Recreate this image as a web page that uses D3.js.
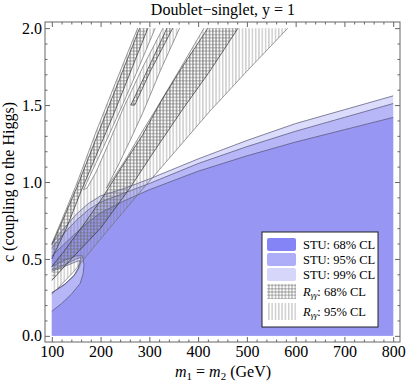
<!DOCTYPE html>
<html lang="en">
<head>
<meta charset="UTF-8">
<title>Doublet-singlet, y = 1</title>
<script src="https://d3js.org/d3.v7.min.js"></script>
<style>
 body { margin: 0; background: #fff; font-family: "Liberation Serif", "Times New Roman", serif; }
</style>
</head>
<body>
<div id="chart"></div>
<script>
const width = 407, height = 385;

// axis ticks
const xTicks = [100, 200, 300, 400, 500, 600, 700, 800];
const yTicks = [0, 0.5, 1.0, 1.5, 2.0];

// STU allowed regions, [m (GeV), c]: upper edge, then the notch near m = 100
const stu99Upper = [[100,0.60],[120,0.68],[150,0.79],[175,0.86],[200,0.91],[250,0.96],[300,1.02],[400,1.15],[500,1.27],[600,1.38],[700,1.47],[800,1.56]];
const stu95Upper = [[100,0.57],[120,0.65],[150,0.75],[175,0.82],[200,0.87],[250,0.93],[300,0.99],[400,1.12],[500,1.23],[600,1.33],[700,1.42],[800,1.51]];
const stu68Upper = [[100,0.52],[120,0.58],[150,0.67],[175,0.74],[200,0.80],[250,0.88],[300,0.95],[400,1.07],[500,1.17],[600,1.26],[700,1.34],[800,1.42]];
const stu99Notch = [[100,0.42],[125,0.45],[148,0.48],[157,0.49],[154,0.44],[145,0.39],[125,0.33],[100,0.28]];
const stu95Notch = [[100,0.43],[125,0.46],[150,0.50],[160,0.51],[157,0.45],[148,0.40],[128,0.34],[100,0.28]];
const stu68Notch = [[100,0.45],[125,0.49],[150,0.52],[163,0.52],[166,0.46],[164,0.40],[158,0.34],[140,0.27],[120,0.21],[100,0.16]];

// R_gamma-gamma 95% CL: outer edges and the white wedges inside
const r95Left  = [[276,2.0],[230,1.64],[190,1.32],[150,0.98],[120,0.75],[100,0.60]];
const r95Right = [[584,2.0],[500,1.72],[424,1.46],[307,1.03],[281,0.935],[200,0.63],[143,0.41],[100,0.27]];
const gapA = [[312,2.0],[275,1.72],[242,1.48],[205,1.22],[178,1.04],[165,0.95],[172,0.96],[190,1.06],[215,1.24],[248,1.49],[287,1.75],[328,2.0]];
const gapB = [[362,2.0],[322,1.72],[288,1.46],[262,1.28],[238,1.12],[212,0.96],[225,1.02],[252,1.15],[280,1.30],[315,1.48],[362,1.73],[412,2.0]];

// R_gamma-gamma 68% CL bands: left edge (top -> bottom), right edge (bottom -> top)
const r68Band1Left  = [[280,2.0],[214,1.47],[152,0.97],[118,0.72],[100,0.59]];
const r68Band1Right = [[100,0.50],[130,0.70],[160,0.94],[228,1.45],[297,2.0]];
const r68Band2Left  = [[336,2.0],[292,1.70],[262,1.50]];
const r68Band2Right = [[270,1.50],[302,1.72],[348,2.0]];
const r68Band3Left  = [[420,2.0],[366,1.74],[325,1.53],[285,1.30],[240,1.08],[200,0.88],[160,0.70],[125,0.55],[100,0.45]];
const r68Band3Right = [[100,0.36],[140,0.50],[200,0.70],[260,0.96],[310,1.20],[370,1.48],[424,1.72],[482,2.0]];

const legendItems = ["STU: 68% CL", "STU: 95% CL", "STU: 99% CL"];

const col68 = "#9797f3", col95 = "#b7b7f7", col99 = "#dbdbfb";
const key68 = "#8484f7", key95 = "#adadf8", key99 = "#d6d6fa";

const svg = d3.select("#chart").append("svg")
    .attr("width", width)
    .attr("height", height);

const x = d3.scaleLinear().domain([86, 814]).range([45, 400]);
const y = d3.scaleLinear().domain([-0.04, 2.04]).range([342, 22]);

const line = d3.line().x(d => x(d[0])).y(d => y(d[1]));
const closed = pts => line(pts) + "Z";

// patterns
const defs = svg.append("defs");
defs.append("clipPath").attr("id", "clip")
    .append("rect").attr("x", 45).attr("y", 22).attr("width", 355).attr("height", 320);

const vh = defs.append("pattern").attr("id", "vhatch")
    .attr("patternUnits", "userSpaceOnUse").attr("width", 3.3).attr("height", 10);
vh.append("line").attr("x1", 1.6).attr("x2", 1.6).attr("y1", 0).attr("y2", 10)
    .attr("stroke", "#787878").attr("stroke-width", 0.6);

const xh = defs.append("pattern").attr("id", "xhatch")
    .attr("patternUnits", "userSpaceOnUse").attr("width", 3.3).attr("height", 3.3);
xh.append("line").attr("x1", 1.6).attr("x2", 1.6).attr("y1", 0).attr("y2", 3.3)
    .attr("stroke", "#6a6a6a").attr("stroke-width", 0.6);
xh.append("line").attr("x1", 0).attr("x2", 3.3).attr("y1", 1.6).attr("y2", 1.6)
    .attr("stroke", "#6a6a6a").attr("stroke-width", 0.6);

const plot = svg.append("g").attr("clip-path", "url(#clip)");

// STU regions
const stuPoly = (upper, notch) => closed([[100, 0], [800, 0]].concat(upper.slice().reverse(), notch));
[[stu99Upper, stu99Notch, col99], [stu95Upper, stu95Notch, col95], [stu68Upper, stu68Notch, col68]]
  .forEach(([u, n, c]) => {
    plot.append("path").attr("d", stuPoly(u, n)).attr("fill", c);
  });
[stu99Upper, stu95Upper, stu68Upper, stu99Notch, stu95Notch, stu68Notch].forEach(l => {
    plot.append("path").attr("d", line(l)).attr("fill", "none")
        .attr("stroke", "#505070").attr("stroke-width", 0.7);
});

// R 95% region (vertical hatch), gaps cut out with evenodd
const r95Outer = r95Left.concat(r95Right.slice().reverse());
plot.append("path")
    .attr("d", closed(r95Outer) + closed(gapA) + closed(gapB))
    .attr("fill-rule", "evenodd")
    .attr("fill", "url(#vhatch)");

// R 68% bands (cross hatch)
const bands = [[r68Band1Left, r68Band1Right], [r68Band2Left, r68Band2Right], [r68Band3Left, r68Band3Right]];
bands.forEach(([l, r]) => {
    plot.append("path").attr("d", closed(l.concat(r))).attr("fill", "url(#xhatch)");
});

// outlines
[r95Left, r95Right, gapA, gapB].forEach(l => {
    plot.append("path").attr("d", line(l)).attr("fill", "none")
        .attr("stroke", "#6f6f6f").attr("stroke-width", 0.7);
});
bands.forEach(([l, r]) => {
    [l, r].forEach(e => plot.append("path").attr("d", line(e)).attr("fill", "none")
        .attr("stroke", "#333").attr("stroke-width", 0.7));
});
plot.append("path").attr("d", line([r68Band2Left[2], r68Band2Right[0]]))
    .attr("fill", "none").attr("stroke", "#333").attr("stroke-width", 0.7);

// frame and ticks
const xMinor = d3.range(100, 801, 20).filter(v => v % 100 !== 0);
const yMinor = d3.range(0, 21).map(v => v / 10).filter(v => (v * 10) % 5 !== 0);

function styleAxis(g) {
    g.select(".domain").remove();
    g.selectAll("line").attr("stroke", "#666");
    g.selectAll("text").attr("font-family", "Liberation Serif").attr("font-size", 16).attr("fill", "#000");
}

svg.append("g").attr("transform", "translate(0,342)")
    .call(d3.axisBottom(x).tickValues(xTicks).tickSize(-5).tickPadding(4))
    .call(styleAxis);
svg.append("g").attr("transform", "translate(0,342)")
    .call(d3.axisBottom(x).tickValues(xMinor).tickSize(-2.5).tickFormat(""))
    .call(styleAxis);
svg.append("g").attr("transform", "translate(0,22)")
    .call(d3.axisTop(x).tickValues(xTicks).tickSize(-5).tickFormat(""))
    .call(styleAxis);
svg.append("g").attr("transform", "translate(0,22)")
    .call(d3.axisTop(x).tickValues(xMinor).tickSize(-2.5).tickFormat(""))
    .call(styleAxis);

svg.append("g").attr("transform", "translate(45,0)")
    .call(d3.axisLeft(y).tickValues(yTicks).tickSize(-5).tickPadding(3).tickFormat(d3.format(".1f")))
    .call(styleAxis);
svg.append("g").attr("transform", "translate(45,0)")
    .call(d3.axisLeft(y).tickValues(yMinor).tickSize(-2.5).tickFormat(""))
    .call(styleAxis);
svg.append("g").attr("transform", "translate(400,0)")
    .call(d3.axisRight(y).tickValues(yTicks).tickSize(-5).tickFormat(""))
    .call(styleAxis);
svg.append("g").attr("transform", "translate(400,0)")
    .call(d3.axisRight(y).tickValues(yMinor).tickSize(-2.5).tickFormat(""))
    .call(styleAxis);

svg.append("rect").attr("x", 45).attr("y", 22).attr("width", 355).attr("height", 320)
    .attr("fill", "none").attr("stroke", "#666").attr("stroke-width", 1);

// title and axis labels
svg.append("text").attr("x", 223).attr("y", 15).attr("text-anchor", "middle")
    .attr("font-size", 16).text("Doublet\u2212singlet, y = 1");

const xl = svg.append("text").attr("x", 223).attr("y", 377).attr("text-anchor", "middle").attr("font-size", 16);
xl.append("tspan").attr("font-style", "italic").text("m");
xl.append("tspan").attr("font-size", 11).attr("dy", 3).text("1");
xl.append("tspan").attr("dy", -3).text(" = ");
xl.append("tspan").attr("font-style", "italic").text("m");
xl.append("tspan").attr("font-size", 11).attr("dy", 3).text("2");
xl.append("tspan").attr("dy", -3).text(" (GeV)");

svg.append("text").attr("transform", "translate(14,182) rotate(-90)")
    .attr("text-anchor", "middle").attr("font-size", 16)
    .text("c (coupling to the Higgs)");

// legend
const lg = svg.append("g");
lg.append("rect").attr("x", 262).attr("y", 232).attr("width", 116).attr("height", 95)
    .attr("fill", "#fff").attr("stroke", "#222").attr("stroke-width", 1);
[key68, key95, key99].forEach((c, i) => {
    lg.append("rect").attr("x", 267).attr("y", 238 + i * 15).attr("width", 29).attr("height", 13)
        .attr("rx", 2).attr("fill", c);
    lg.append("text").attr("x", 303).attr("y", 248.5 + i * 15).attr("font-size", 12.5).text(legendItems[i]);
});
lg.append("rect").attr("x", 267).attr("y", 284).attr("width", 29).attr("height", 15).attr("fill", "url(#xhatch)");
lg.append("rect").attr("x", 267).attr("y", 303).attr("width", 29).attr("height", 17).attr("fill", "url(#vhatch)");
["68% CL", "95% CL"].forEach((t, i) => {
    const tx = lg.append("text").attr("x", 303).attr("y", 295.5 + i * 20).attr("font-size", 12.5);
    tx.append("tspan").attr("font-style", "italic").text("R");
    tx.append("tspan").attr("font-style", "italic").attr("font-size", 8.5).attr("dy", 2.5).text("\u03b3\u03b3");
    tx.append("tspan").attr("dy", -2.5).text(": " + t);
});
</script>
</body>
</html>
